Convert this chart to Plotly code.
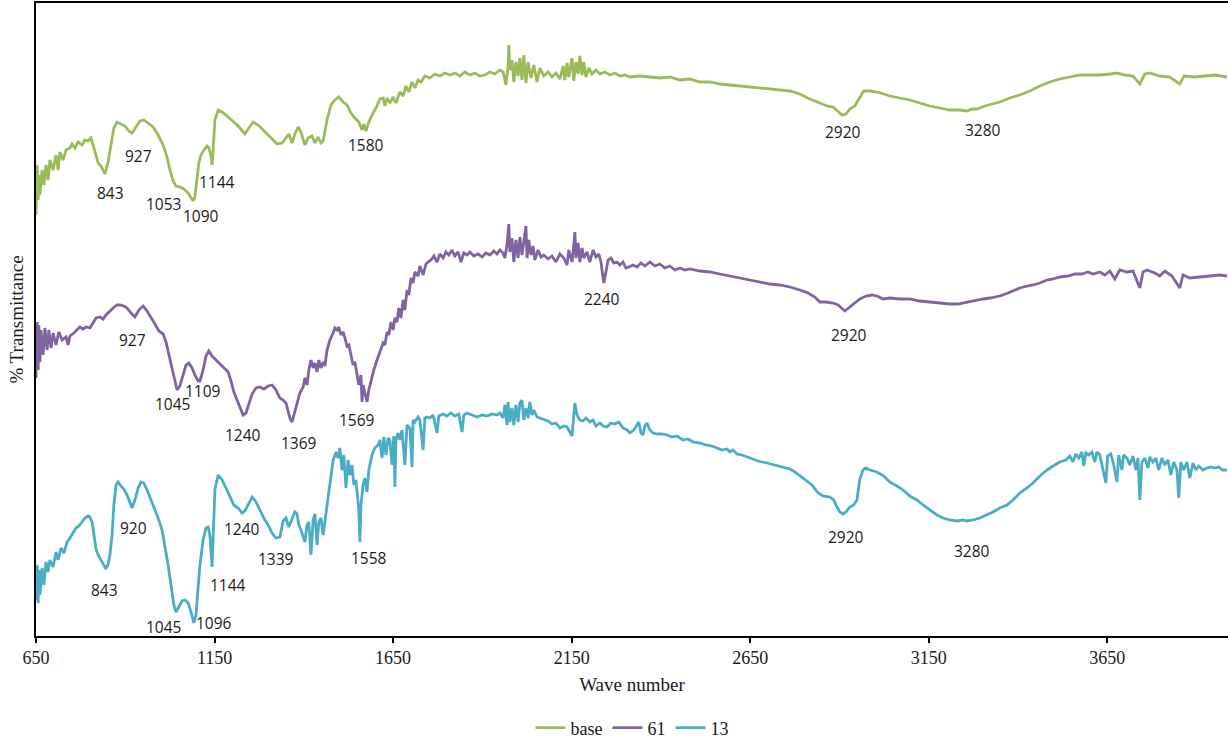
import plotly.graph_objects as go

# ---------------- data ----------------
base_wn = [650, 653, 656, 658, 661, 667, 672, 678, 684, 689, 698, 706, 712, 717, 726, 734, 745, 751, 759, 768,
           779, 787, 796, 804, 810, 818, 824, 832, 843, 852, 860, 868, 877, 888, 899, 910, 919, 930, 941, 952,
           964, 978, 992, 1006, 1017, 1025, 1034, 1042, 1053, 1064, 1076, 1084, 1090, 1095, 1101, 1106, 1112, 1120, 1129, 1134,
           1140, 1143, 1146, 1151, 1160, 1171, 1185, 1199, 1210, 1221, 1235, 1246, 1258, 1272, 1286, 1300, 1314, 1325, 1339, 1350,
           1358, 1367, 1375, 1384, 1392, 1403, 1412, 1423, 1431, 1440, 1448, 1454, 1465, 1476, 1487, 1498, 1510, 1521, 1532, 1543,
           1554, 1563, 1568, 1574, 1582, 1594, 1605, 1613, 1622, 1627, 1633, 1641, 1650, 1658, 1669, 1678, 1686, 1694, 1703, 1711,
           1720, 1728, 1739, 1753, 1767, 1781, 1795, 1809, 1823, 1837, 1851, 1865, 1879, 1893, 1907, 1921, 1935, 1949, 1958, 1966,
           1972, 1974, 1977, 1983, 1988, 1994, 2000, 2005, 2011, 2016, 2022, 2028, 2036, 2044, 2053, 2061, 2072, 2084, 2095, 2106,
           2117, 2126, 2131, 2137, 2142, 2151, 2156, 2162, 2168, 2173, 2179, 2184, 2190, 2198, 2207, 2218, 2229, 2243, 2257, 2271,
           2285, 2299, 2313, 2341, 2369, 2397, 2425, 2453, 2481, 2509, 2537, 2565, 2593, 2621, 2649, 2677, 2705, 2733, 2761, 2789,
           2817, 2845, 2865, 2882, 2896, 2907, 2918, 2929, 2943, 2957, 2968, 2985, 3005, 3024, 3041, 3069, 3097, 3125, 3153, 3181,
           3209, 3237, 3257, 3271, 3285, 3307, 3330, 3349, 3377, 3405, 3433, 3461, 3489, 3517, 3545, 3573, 3601, 3629, 3657, 3677,
           3699, 3722, 3741, 3755, 3769, 3797, 3825, 3853, 3865, 3895, 3923, 3951, 3985]
base_t = [421, 471, 436, 461, 441, 466, 451, 471, 456, 476, 466, 481, 466, 484, 476, 486, 488, 492, 488, 494,
          491, 496, 495, 498, 491, 479, 473, 470, 462, 474, 491, 508, 514, 512, 510, 505, 503, 509, 515, 516,
          513, 509, 501, 491, 479, 466, 455, 450, 449, 447, 443, 438, 435, 439, 456, 473, 481, 486, 490, 488,
          480, 471, 486, 516, 526, 524, 520, 516, 512, 508, 502, 508, 514, 511, 506, 500, 495, 492, 493, 499,
          502, 493, 502, 509, 504, 491, 498, 500, 493, 499, 493, 495, 516, 531, 536, 539, 534, 531, 523, 518,
          514, 506, 512, 505, 514, 523, 530, 537, 538, 530, 538, 533, 539, 533, 544, 540, 550, 544, 554, 548,
          556, 554, 560, 558, 562, 560, 563, 561, 563, 560, 564, 561, 563, 560, 561, 564, 562, 566, 564, 551,
          570, 591, 566, 576, 554, 574, 560, 578, 556, 581, 553, 574, 558, 571, 554, 568, 560, 564, 559, 563,
          557, 570, 556, 573, 559, 578, 555, 574, 562, 580, 561, 574, 559, 568, 562, 566, 562, 564, 561, 563,
          560, 561, 559, 560, 559, 558, 559, 556, 557, 554, 554, 552, 551, 550, 549, 548, 547, 546, 545, 542,
          537, 533, 530, 529, 524, 521, 522, 527, 530, 539, 545, 545, 544, 542, 540, 538, 536, 533, 530, 528,
          526, 526, 525, 527, 527, 530, 532, 534, 538, 541, 545, 550, 554, 557, 559, 561, 561, 561, 562, 563,
          561, 560, 552, 562, 563, 560, 559, 552, 560, 559, 560, 561, 559]

s61_wn = [650, 653, 656, 658, 661, 664, 670, 675, 681, 686, 692, 698, 706, 714, 723, 734, 740, 745, 756, 765,
          773, 782, 790, 801, 810, 818, 829, 838, 846, 857, 866, 877, 885, 896, 905, 916, 927, 938, 950, 961,
          972, 983, 994, 1006, 1014, 1022, 1031, 1039, 1045, 1053, 1062, 1070, 1078, 1087, 1095, 1104, 1109, 1118, 1126, 1134,
          1143, 1154, 1165, 1176, 1188, 1196, 1204, 1213, 1221, 1230, 1238, 1246, 1255, 1266, 1277, 1288, 1300, 1311, 1322, 1333,
          1342, 1350, 1356, 1361, 1367, 1372, 1381, 1389, 1398, 1403, 1409, 1414, 1420, 1426, 1431, 1437, 1442, 1448, 1454, 1459,
          1465, 1473, 1482, 1487, 1493, 1498, 1504, 1510, 1515, 1521, 1526, 1532, 1538, 1543, 1549, 1554, 1560, 1563, 1566, 1571,
          1577, 1582, 1588, 1596, 1605, 1613, 1622, 1627, 1633, 1638, 1644, 1650, 1655, 1661, 1666, 1672, 1678, 1683, 1689, 1694,
          1700, 1706, 1711, 1720, 1725, 1734, 1742, 1748, 1756, 1764, 1773, 1781, 1790, 1798, 1806, 1815, 1823, 1832, 1840, 1848,
          1857, 1865, 1876, 1888, 1899, 1910, 1921, 1932, 1941, 1949, 1958, 1963, 1969, 1974, 1977, 1983, 1988, 1994, 2000, 2005,
          2011, 2016, 2022, 2025, 2030, 2036, 2042, 2047, 2056, 2064, 2072, 2084, 2095, 2106, 2117, 2128, 2137, 2142, 2151, 2156,
          2159, 2162, 2168, 2173, 2179, 2184, 2193, 2201, 2210, 2218, 2226, 2232, 2238, 2240, 2246, 2252, 2260, 2268, 2277, 2285,
          2294, 2302, 2310, 2322, 2333, 2344, 2355, 2369, 2383, 2397, 2411, 2425, 2439, 2453, 2467, 2481, 2509, 2537, 2565, 2593,
          2621, 2649, 2677, 2705, 2733, 2761, 2789, 2812, 2831, 2845, 2862, 2882, 2896, 2915, 2929, 2943, 2957, 2974, 2991, 3005,
          3022, 3041, 3069, 3097, 3125, 3153, 3181, 3209, 3232, 3257, 3279, 3302, 3321, 3349, 3372, 3391, 3405, 3425, 3442, 3461,
          3481, 3498, 3517, 3540, 3559, 3579, 3596, 3610, 3629, 3643, 3657, 3671, 3685, 3705, 3722, 3741, 3750, 3761, 3783, 3797,
          3811, 3831, 3853, 3862, 3881, 3909, 3937, 3965, 3985]
s61_t = [258, 314, 266, 311, 274, 306, 281, 308, 286, 306, 288, 303, 291, 304, 296, 299, 291, 300, 303, 306,
         309, 307, 309, 308, 314, 318, 319, 317, 321, 325, 328, 331, 331, 330, 328, 323, 319, 326, 330, 325,
         319, 312, 305, 302, 294, 281, 268, 254, 246, 250, 261, 271, 273, 268, 261, 255, 255, 266, 280, 285,
         280, 276, 273, 269, 264, 255, 244, 236, 228, 221, 223, 231, 242, 248, 249, 247, 250, 251, 246, 238,
         236, 233, 226, 218, 214, 221, 234, 243, 249, 258, 251, 266, 276, 268, 273, 264, 276, 268, 274, 270,
         286, 296, 303, 308, 306, 309, 301, 304, 298, 290, 291, 281, 271, 274, 261, 251, 261, 234, 251, 244,
         234, 246, 256, 266, 276, 284, 293, 291, 304, 301, 314, 306, 318, 314, 328, 318, 336, 326, 346, 341,
         358, 353, 364, 360, 370, 361, 372, 374, 376, 380, 374, 382, 378, 384, 381, 386, 380, 384, 374, 383,
         381, 384, 380, 382, 379, 383, 381, 385, 382, 386, 383, 378, 391, 412, 384, 398, 374, 396, 378, 399,
         381, 394, 410, 378, 396, 381, 390, 376, 386, 379, 381, 377, 380, 374, 382, 378, 371, 386, 374, 391,
         404, 378, 393, 374, 388, 378, 384, 374, 386, 379, 382, 374, 361, 353, 364, 376, 378, 373, 374, 371,
         374, 368, 369, 371, 369, 373, 370, 374, 370, 372, 368, 370, 366, 368, 366, 367, 365, 364, 362, 360,
         358, 356, 354, 352, 351, 349, 346, 343, 339, 334, 334, 333, 331, 325, 329, 333, 337, 340, 341, 340,
         337, 338, 337, 337, 335, 334, 333, 332, 332, 334, 335, 337, 338, 340, 343, 346, 348, 350, 351, 353,
         356, 357, 359, 360, 362, 362, 364, 362, 364, 361, 365, 357, 366, 364, 365, 348, 364, 366, 363, 360,
         365, 360, 348, 361, 358, 359, 360, 361, 360]

s13_wn = [650, 653, 656, 658, 661, 667, 672, 678, 684, 689, 698, 706, 712, 720, 728, 737, 745, 754, 762, 770,
          779, 787, 796, 801, 807, 812, 818, 824, 832, 840, 846, 852, 857, 863, 868, 874, 880, 888, 896, 905,
          913, 919, 927, 936, 944, 952, 961, 969, 980, 992, 1003, 1011, 1020, 1028, 1036, 1042, 1050, 1059, 1067, 1076,
          1084, 1092, 1098, 1104, 1109, 1118, 1126, 1132, 1137, 1143, 1146, 1151, 1160, 1171, 1182, 1193, 1204, 1216, 1227, 1235,
          1244, 1255, 1266, 1277, 1288, 1300, 1311, 1322, 1333, 1342, 1350, 1358, 1367, 1375, 1381, 1386, 1392, 1398, 1403, 1409,
          1414, 1420, 1426, 1431, 1437, 1442, 1448, 1454, 1459, 1465, 1473, 1482, 1490, 1496, 1501, 1507, 1512, 1518, 1524, 1529,
          1535, 1540, 1546, 1552, 1554, 1557, 1560, 1566, 1571, 1577, 1582, 1591, 1599, 1608, 1613, 1619, 1624, 1630, 1636, 1641,
          1647, 1652, 1655, 1658, 1664, 1669, 1675, 1683, 1689, 1697, 1703, 1706, 1711, 1720, 1725, 1734, 1739, 1745, 1753, 1762,
          1773, 1778, 1790, 1801, 1812, 1823, 1834, 1843, 1848, 1857, 1871, 1885, 1899, 1913, 1927, 1941, 1949, 1958, 1963, 1969,
          1972, 1977, 1983, 1988, 1994, 2000, 2005, 2011, 2016, 2022, 2028, 2033, 2039, 2044, 2053, 2061, 2072, 2084, 2095, 2106,
          2117, 2128, 2137, 2145, 2151, 2156, 2159, 2165, 2173, 2182, 2190, 2201, 2210, 2218, 2229, 2238, 2249, 2260, 2271, 2282,
          2294, 2305, 2313, 2324, 2333, 2338, 2344, 2350, 2355, 2361, 2369, 2378, 2389, 2403, 2417, 2431, 2445, 2462, 2476, 2490,
          2509, 2526, 2543, 2557, 2571, 2585, 2593, 2602, 2613, 2627, 2649, 2672, 2697, 2719, 2742, 2761, 2775, 2789, 2806, 2823,
          2840, 2854, 2873, 2884, 2893, 2901, 2910, 2918, 2929, 2940, 2949, 2957, 2966, 2974, 2985, 3005, 3024, 3041, 3061, 3078,
          3097, 3117, 3134, 3153, 3173, 3190, 3209, 3229, 3246, 3257, 3274, 3293, 3313, 3330, 3349, 3369, 3386, 3405, 3425, 3442,
          3461, 3481, 3498, 3517, 3534, 3545, 3554, 3562, 3570, 3579, 3584, 3590, 3598, 3607, 3615, 3621, 3629, 3637, 3646, 3651,
          3660, 3668, 3677, 3682, 3691, 3696, 3705, 3713, 3722, 3730, 3736, 3741, 3747, 3755, 3764, 3769, 3778, 3786, 3794, 3803,
          3811, 3820, 3828, 3836, 3845, 3850, 3856, 3864, 3873, 3881, 3890, 3898, 3906, 3918, 3929, 3940, 3951, 3962, 3973, 3985]
s13_t = [36, 71, 33, 66, 41, 68, 51, 74, 64, 76, 69, 84, 76, 88, 83, 94, 98, 103, 108, 110,
         114, 118, 120, 119, 114, 101, 87, 81, 76, 70, 67, 72, 81, 101, 131, 151, 154, 150, 147, 141,
         133, 128, 136, 148, 154, 153, 146, 139, 130, 118, 106, 91, 71, 51, 31, 24, 29, 35, 36, 33,
         24, 13, 21, 46, 71, 96, 108, 109, 101, 69, 106, 146, 161, 156, 148, 139, 131, 128, 123, 125,
         132, 139, 134, 126, 118, 111, 103, 98, 99, 115, 118, 109, 116, 124, 122, 111, 106, 98, 94, 111,
         114, 81, 116, 122, 91, 114, 118, 101, 114, 131, 151, 176, 184, 178, 188, 166, 181, 148, 176, 161,
         171, 151, 156, 136, 126, 94, 131, 151, 158, 144, 166, 181, 188, 191, 196, 178, 199, 181, 198, 196,
         171, 200, 149, 196, 203, 196, 206, 171, 211, 208, 169, 216, 214, 219, 216, 186, 218, 219, 218, 221,
         203, 220, 222, 220, 223, 220, 222, 204, 221, 223, 221, 219, 221, 220, 222, 221, 223, 218, 231, 211,
         234, 214, 228, 211, 231, 214, 233, 236, 216, 228, 218, 234, 221, 226, 219, 218, 216, 215, 212, 213,
         208, 210, 209, 204, 200, 221, 233, 221, 216, 215, 218, 214, 216, 210, 213, 210, 209, 213, 212, 214,
         208, 206, 203, 206, 211, 214, 203, 201, 210, 213, 206, 203, 202, 202, 201, 199, 200, 196, 197, 194,
         193, 191, 190, 188, 186, 187, 184, 186, 182, 181, 178, 175, 173, 171, 169, 167, 164, 160, 156, 151,
         143, 140, 139, 136, 129, 124, 122, 124, 129, 131, 136, 157, 166, 168, 166, 164, 160, 154, 150, 146,
         140, 136, 131, 126, 121, 118, 116, 115, 116, 115, 116, 118, 121, 124, 128, 131, 136, 143, 148, 153,
         160, 166, 170, 174, 176, 180, 174, 182, 178, 184, 170, 183, 181, 184, 174, 184, 181, 166, 153, 180,
         182, 171, 154, 181, 166, 181, 178, 171, 180, 166, 178, 136, 174, 178, 168, 179, 174, 178, 166, 178,
         171, 176, 161, 174, 166, 138, 174, 166, 174, 158, 173, 166, 170, 166, 168, 169, 168, 169, 166, 166]

# peak labels: (text, wave number, level)
base_labels = ["843", "927", "1053", "1090", "1144", "1580", "2920", "3280"]
base_lab_x = [860, 936, 1008, 1112, 1157, 1574, 2910, 3302]
base_lab_y = [443, 480, 432, 420, 454, 491, 504, 506]

s61_labels = ["927", "1045", "1109", "1240", "1369", "1569", "2240", "2920"]
s61_lab_x = [919, 1031, 1118, 1230, 1386, 1549, 2235, 2926]
s61_lab_y = [296, 232, 245, 201, 193, 216, 337, 301]

s13_labels = ["843", "920", "1045", "1096", "1144", "1240", "1339", "1558", "2920", "3280"]
s13_lab_x = [843, 922, 1006, 1148, 1188, 1227, 1322, 1582, 2918, 3271]
s13_lab_y = [46, 108, 9, 13, 51, 107, 77, 78, 99, 85]

tick_vals = [650, 1150, 1650, 2150, 2650, 3150, 3650]
tick_text = ["650", "1150", "1650", "2150", "2650", "3150", "3650"]

series = [
    ("base", base_wn, base_t, "#9BBB59"),
    ("61", s61_wn, s61_t, "#8064A2"),
    ("13", s13_wn, s13_t, "#4BACC6"),
]

fig = go.Figure()
for name, xs, ys, col in series:
    fig.add_trace(go.Scatter(x=xs, y=ys, mode="lines", name=name,
                             line=dict(color=col, width=2.8)))

annots = []
for labs, lx, ly in [(base_labels, base_lab_x, base_lab_y),
                     (s61_labels, s61_lab_x, s61_lab_y),
                     (s13_labels, s13_lab_x, s13_lab_y)]:
    for t, x, y in zip(labs, lx, ly):
        annots.append(dict(x=x, y=y, text=t, showarrow=False, xref="x", yref="y",
                           xanchor="center", yanchor="middle",
                           font=dict(family="Open Sans", size=15.5, color="#1a1a1a")))

serif = "Liberation Serif"
fig.update_layout(
    width=1228, height=740,
    margin=dict(l=36, r=0, t=3, b=104, autoexpand=False),
    paper_bgcolor="white", plot_bgcolor="white",
    showlegend=True,
    legend=dict(orientation="h", x=0.5, xanchor="center", y=-0.1453, yanchor="middle",
                font=dict(family=serif, size=18, color="#1a1a1a"),
                bgcolor="rgba(0,0,0,0)", itemwidth=30),
    annotations=annots,
    xaxis=dict(range=[650, 3988], tickmode="array", tickvals=tick_vals, ticktext=tick_text,
               showgrid=False, zeroline=False, showline=True, linecolor="black", linewidth=1.5,
               mirror=True, ticks="outside", ticklen=5, tickwidth=1.5, tickcolor="black",
               ticklabelstandoff=0,
               tickfont=dict(family=serif, size=18, color="#1a1a1a"),
               title=dict(text="Wave number", standoff=10,
                          font=dict(family=serif, size=19, color="#1a1a1a")),
               automargin=False),
    yaxis=dict(range=[0, 633], showticklabels=False, ticks="", showgrid=False, zeroline=False,
               showline=True, linecolor="black", linewidth=1.5,
               title=dict(text="% Transmittance", standoff=6,
                          font=dict(family=serif, size=19, color="#1a1a1a")),
               automargin=False),
)

fig.write_html("out.html")
